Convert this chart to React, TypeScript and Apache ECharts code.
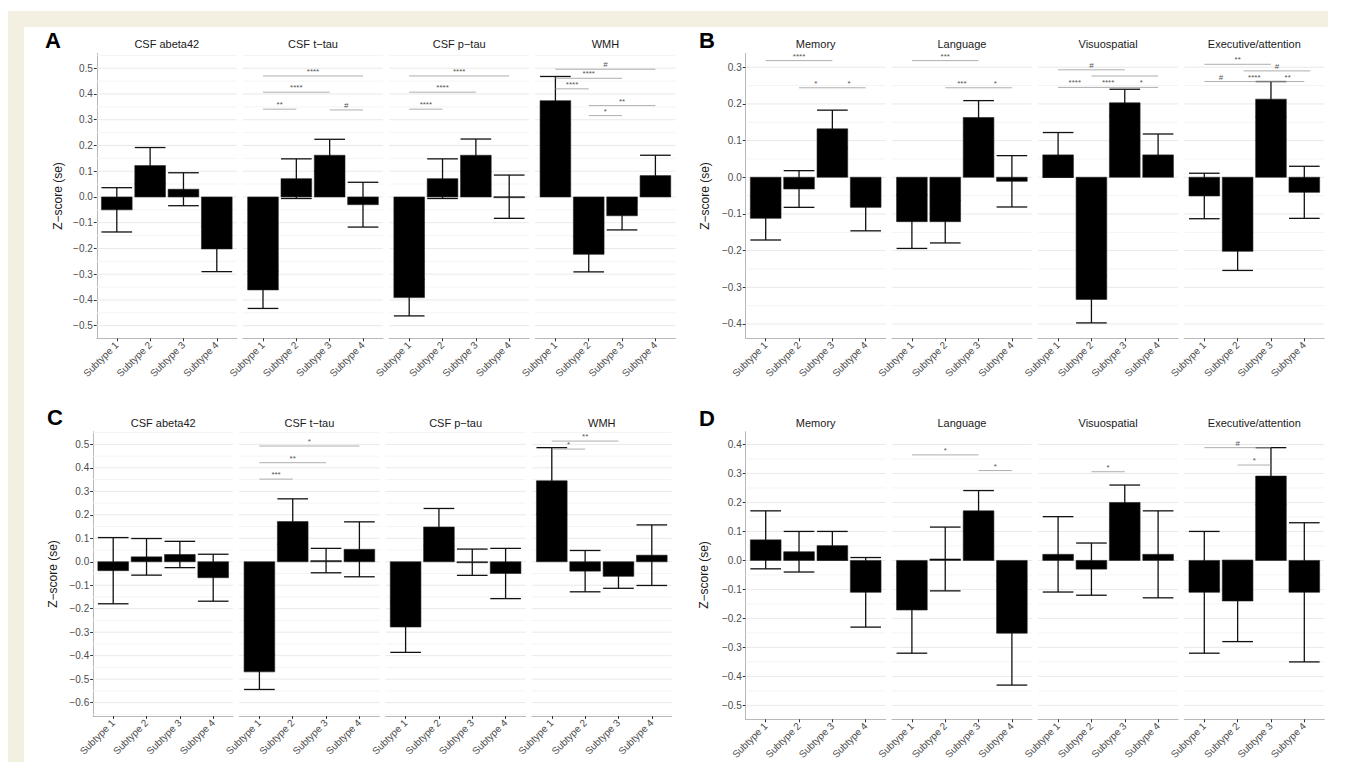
import React, { useEffect, useRef } from "react";
import * as echarts from "echarts";

type Sig = [number, number, number, string];

const SUBTYPES = ["Subtype 1", "Subtype 2", "Subtype 3", "Subtype 4"];
const SUBTYPE_POS = [1, 2, 3, 4];
const BIOMARKER_FACETS = ["CSF abeta42", "CSF t\u2212tau", "CSF p\u2212tau", "WMH"];
const COGNITION_FACETS = ["Memory", "Language", "Visuospatial", "Executive/attention"];

// ---------- Panel A ----------
const A_TICKS = [-0.5, -0.4, -0.3, -0.2, -0.1, 0, 0.1, 0.2, 0.3, 0.4, 0.5];
const A_MEAN = [
  [-0.05, 0.122, 0.03, -0.202],
  [-0.361, 0.071, 0.162, -0.03],
  [-0.391, 0.071, 0.162, 0.001],
  [0.374, -0.223, -0.073, 0.083],
];
const A_SE = [
  [0.086, 0.07, 0.064, 0.088],
  [0.072, 0.077, 0.062, 0.087],
  [0.071, 0.077, 0.063, 0.084],
  [0.094, 0.068, 0.055, 0.079],
];
const A_SIG: Sig[][] = [
  [],
  [[1, 4, 0.47, "****"], [1, 3, 0.407, "****"], [1, 2, 0.341, "**"], [3, 4, 0.338, "#"]],
  [[1, 4, 0.47, "****"], [1, 3, 0.407, "****"], [1, 2, 0.341, "****"]],
  [[1, 4, 0.496, "#"], [1, 3, 0.461, "****"], [1, 2, 0.42, "****"], [2, 4, 0.355, "**"], [2, 3, 0.316, "*"]],
];

// ---------- Panel B ----------
const B_TICKS = [-0.4, -0.3, -0.2, -0.1, 0, 0.1, 0.2, 0.3];
const B_MEAN = [
  [-0.112, -0.032, 0.132, -0.082],
  [-0.121, -0.121, 0.163, -0.011],
  [0.061, -0.333, 0.203, 0.061],
  [-0.051, -0.202, 0.213, -0.041],
];
const B_SE = [
  [0.059, 0.05, 0.051, 0.064],
  [0.073, 0.058, 0.046, 0.07],
  [0.061, 0.064, 0.037, 0.057],
  [0.062, 0.052, 0.048, 0.071],
];
const B_SIG: Sig[][] = [
  [[1, 3, 0.318, "****"], [2, 3, 0.244, "*"], [3, 4, 0.244, "*"]],
  [[1, 3, 0.318, "***"], [2, 3, 0.244, "***"], [3, 4, 0.244, "*"]],
  [[1, 3, 0.293, "#"], [2, 4, 0.276, ""], [1, 2, 0.245, "****"], [2, 3, 0.245, "****"], [3, 4, 0.245, "*"]],
  [[1, 3, 0.308, "**"], [2.18, 4.18, 0.29, "#"], [1, 2, 0.261, "#"], [2, 3, 0.261, "****"], [3, 4, 0.261, "**"]],
];

// ---------- Panel C ----------
const C_TICKS = [-0.6, -0.5, -0.4, -0.3, -0.2, -0.1, 0, 0.1, 0.2, 0.3, 0.4, 0.5];
const C_MEAN = [
  [-0.038, 0.021, 0.031, -0.068],
  [-0.469, 0.171, 0.005, 0.053],
  [-0.278, 0.148, -0.002, -0.05],
  [0.345, -0.04, -0.062, 0.028],
];
const C_SE = [
  [0.141, 0.078, 0.056, 0.1],
  [0.075, 0.097, 0.052, 0.117],
  [0.108, 0.079, 0.056, 0.107],
  [0.141, 0.088, 0.051, 0.129],
];
const C_SIG: Sig[][] = [
  [],
  [[1, 4, 0.493, "*"], [1, 3, 0.422, "**"], [1, 2, 0.352, "***"]],
  [],
  [[1, 3, 0.514, "**"], [1, 2, 0.48, "*"]],
];

// ---------- Panel D ----------
const D_TICKS = [-0.5, -0.4, -0.3, -0.2, -0.1, 0, 0.1, 0.2, 0.3, 0.4];
const D_MEAN = [
  [0.071, 0.03, 0.051, -0.11],
  [-0.171, 0.005, 0.171, -0.251],
  [0.021, -0.03, 0.2, 0.021],
  [-0.11, -0.14, 0.291, -0.11],
];
const D_SE = [
  [0.1, 0.07, 0.049, 0.12],
  [0.149, 0.11, 0.07, 0.179],
  [0.13, 0.09, 0.06, 0.15],
  [0.21, 0.14, 0.098, 0.24],
];
const D_SIG: Sig[][] = [
  [],
  [[1, 3, 0.364, "*"], [3, 4, 0.31, "*"]],
  [[2, 3, 0.306, "*"]],
  [[1, 3, 0.389, "#"], [2, 3, 0.329, "*"]],
];

// ---------- layout ----------
const FONT = "'Liberation Sans', Arial, Helvetica, sans-serif";
const FACET_W = 140;
const FACET_STEP = 146.2;
const BAR_W = 0.92;

const PANELS = [
  { letter: "A", facets: BIOMARKER_FACETS, mean: A_MEAN, se: A_SE, sig: A_SIG, ticks: A_TICKS,
    yMin: -0.549, yMax: 0.558, left: 96.8, top: 53.3, height: 285, letterXY: [45, 40], titleXY: [58, 196] },
  { letter: "B", facets: COGNITION_FACETS, mean: B_MEAN, se: B_SE, sig: B_SIG, ticks: B_TICKS,
    yMin: -0.439, yMax: 0.338, left: 745.7, top: 53.3, height: 285, letterXY: [699, 40], titleXY: [705, 196] },
  { letter: "C", facets: BIOMARKER_FACETS, mean: C_MEAN, se: C_SE, sig: C_SIG, ticks: C_TICKS,
    yMin: -0.657, yMax: 0.554, left: 93.2, top: 431.7, height: 284.3, letterXY: [47, 417], titleXY: [53, 574] },
  { letter: "D", facets: COGNITION_FACETS, mean: D_MEAN, se: D_SE, sig: D_SIG, ticks: D_TICKS,
    yMin: -0.548, yMax: 0.444, left: 745.7, top: 431.7, height: 287.6, letterXY: [699, 418], titleXY: [704, 575] },
];

const fmtTick = (v: number) => v.toFixed(1).replace("-", "\u2212");

function buildOption() {
  const grid: any[] = [];
  const xAxis: any[] = [];
  const yAxis: any[] = [];
  const series: any[] = [];
  const graphic: any[] = [
    { type: "rect", silent: true, shape: { x: 8, y: 11, width: 1320, height: 16 }, style: { fill: "#f4f0e1" } },
    { type: "rect", silent: true, shape: { x: 8, y: 11, width: 16, height: 751 }, style: { fill: "#f4f0e1" } },
  ];

  PANELS.forEach((p) => {
    graphic.push({
      type: "text", x: p.letterXY[0], y: p.letterXY[1], silent: true,
      style: { text: p.letter, fontSize: 22, fontWeight: "bold", fontFamily: FONT, fill: "#000", align: "left", verticalAlign: "middle" },
    });
    graphic.push({
      type: "text", x: p.titleXY[0], y: p.titleXY[1], rotation: Math.PI / 2, silent: true,
      style: { text: "Z\u2212score (se)", fontSize: 12, fontFamily: FONT, fill: "#1a1a1a", align: "center", verticalAlign: "middle" },
    });

    const step = p.ticks[1] - p.ticks[0];
    const gridVals: number[][] = [];
    p.ticks.forEach((t) => gridVals.push([1, t, 1]));
    const minorCandidates = [p.ticks[0] - step / 2, ...p.ticks.map((t) => t + step / 2)];
    minorCandidates.forEach((m) => {
      if (m > p.yMin && m < p.yMax) gridVals.push([1, m, 0]);
    });

    p.facets.forEach((name, f) => {
      const gi = grid.length;
      const left = p.left + f * FACET_STEP;
      grid.push({ left, top: p.top, width: FACET_W, height: p.height, containLabel: false });
      graphic.push({
        type: "text", x: left + FACET_W / 2, y: p.top - 9, silent: true,
        style: { text: name, fontSize: 11, fontFamily: FONT, fill: "#1a1a1a", align: "center", verticalAlign: "middle" },
      });
      xAxis.push({
        type: "value", gridIndex: gi, min: 0.4, max: 4.6,
        axisLine: { show: true, onZero: false, lineStyle: { color: "#b8b8b8", width: 1 } },
        axisTick: { show: true, customValues: SUBTYPE_POS, length: 3, lineStyle: { color: "#333", width: 1 } },
        axisLabel: {
          show: true, customValues: SUBTYPE_POS, rotate: 45, margin: 5, fontSize: 10, color: "#4d4d4d", fontFamily: FONT,
          formatter: (v: number) => SUBTYPES[Math.round(v) - 1] ?? "",
        },
        splitLine: { show: false },
      });
      yAxis.push({
        type: "value", gridIndex: gi, min: p.yMin, max: p.yMax, show: f === 0,
        axisLine: { show: true, onZero: false, lineStyle: { color: "#b8b8b8", width: 1 } },
        axisTick: { show: true, customValues: p.ticks, length: 3, lineStyle: { color: "#333", width: 1 } },
        axisLabel: { show: true, customValues: p.ticks, margin: 4, fontSize: 10, color: "#4d4d4d", fontFamily: FONT, formatter: fmtTick },
        splitLine: { show: false },
      });

      series.push({
        type: "custom", xAxisIndex: gi, yAxisIndex: gi, z: 1, silent: true,
        encode: { x: 0, y: 1 },
        data: gridVals,
        renderItem: (_params: any, api: any) => {
          const y = api.value(1);
          const major = api.value(2) === 1;
          const a = api.coord([0.4, y]);
          const b = api.coord([4.6, y]);
          return {
            type: "line",
            shape: { x1: a[0], y1: a[1], x2: b[0], y2: b[1] },
            style: { stroke: major ? "#e9e9e9" : "#f4f4f4", lineWidth: 1 },
          };
        },
      });

      const means = p.mean[f];
      const ses = p.se[f];
      series.push({
        type: "custom", xAxisIndex: gi, yAxisIndex: gi, z: 3, silent: true,
        encode: { x: 0, y: 1 },
        data: means.map((m, i) => [SUBTYPE_POS[i], m, ses[i]]),
        renderItem: (_params: any, api: any) => {
          const x = api.value(0);
          const m = api.value(1);
          const se = api.value(2);
          const w = api.size([BAR_W, 0])[0];
          const p0 = api.coord([x, 0]);
          const p1 = api.coord([x, m]);
          const lo = api.coord([x, m - se]);
          const hi = api.coord([x, m + se]);
          const ls = { stroke: "#111", lineWidth: 1.3 };
          return {
            type: "group",
            children: [
              { type: "line", shape: { x1: lo[0], y1: lo[1], x2: hi[0], y2: hi[1] }, style: ls },
              { type: "line", shape: { x1: lo[0] - w / 2, y1: lo[1], x2: lo[0] + w / 2, y2: lo[1] }, style: ls },
              { type: "line", shape: { x1: hi[0] - w / 2, y1: hi[1], x2: hi[0] + w / 2, y2: hi[1] }, style: ls },
              {
                type: "rect",
                shape: { x: p0[0] - w / 2, y: Math.min(p0[1], p1[1]), width: w, height: Math.max(Math.abs(p1[1] - p0[1]), 1) },
                style: { fill: "#000", stroke: "#222", lineWidth: 0.6 },
              },
            ],
          };
        },
      });

      const sigs = p.sig[f];
      if (sigs.length) {
        series.push({
          type: "custom", xAxisIndex: gi, yAxisIndex: gi, z: 4, silent: true,
          encode: { x: [0, 1], y: 2 },
          data: sigs.map((s) => [s[0], s[1], s[2]]),
          renderItem: (params: any, api: any) => {
            const a = api.coord([api.value(0), api.value(2)]);
            const b = api.coord([api.value(1), api.value(2)]);
            const label = sigs[params.dataIndex][3];
            return {
              type: "group",
              children: [
                { type: "line", shape: { x1: a[0], y1: a[1], x2: b[0], y2: b[1] }, style: { stroke: "#9a9a9a", lineWidth: 0.8 } },
                {
                  type: "text", x: (a[0] + b[0]) / 2, y: a[1] - 0.5,
                  style: { text: label, fontSize: 8, fontFamily: FONT, fill: "#555", align: "center", verticalAlign: "bottom" },
                },
              ],
            };
          },
        });
      }
    });
  });

  return {
    animation: false,
    backgroundColor: "#ffffff",
    textStyle: { fontFamily: FONT },
    grid, xAxis, yAxis, series, graphic,
  };
}

export default function App() {
  const ref = useRef<HTMLDivElement>(null);
  useEffect(() => {
    document.body.style.margin = "0";
    const chart = echarts.init(ref.current!, null, { renderer: "svg" });
    chart.setOption(buildOption() as any);
    return () => chart.dispose();
  }, []);
  return <div ref={ref} style={{ width: 1347, height: 762 }} />;
}
